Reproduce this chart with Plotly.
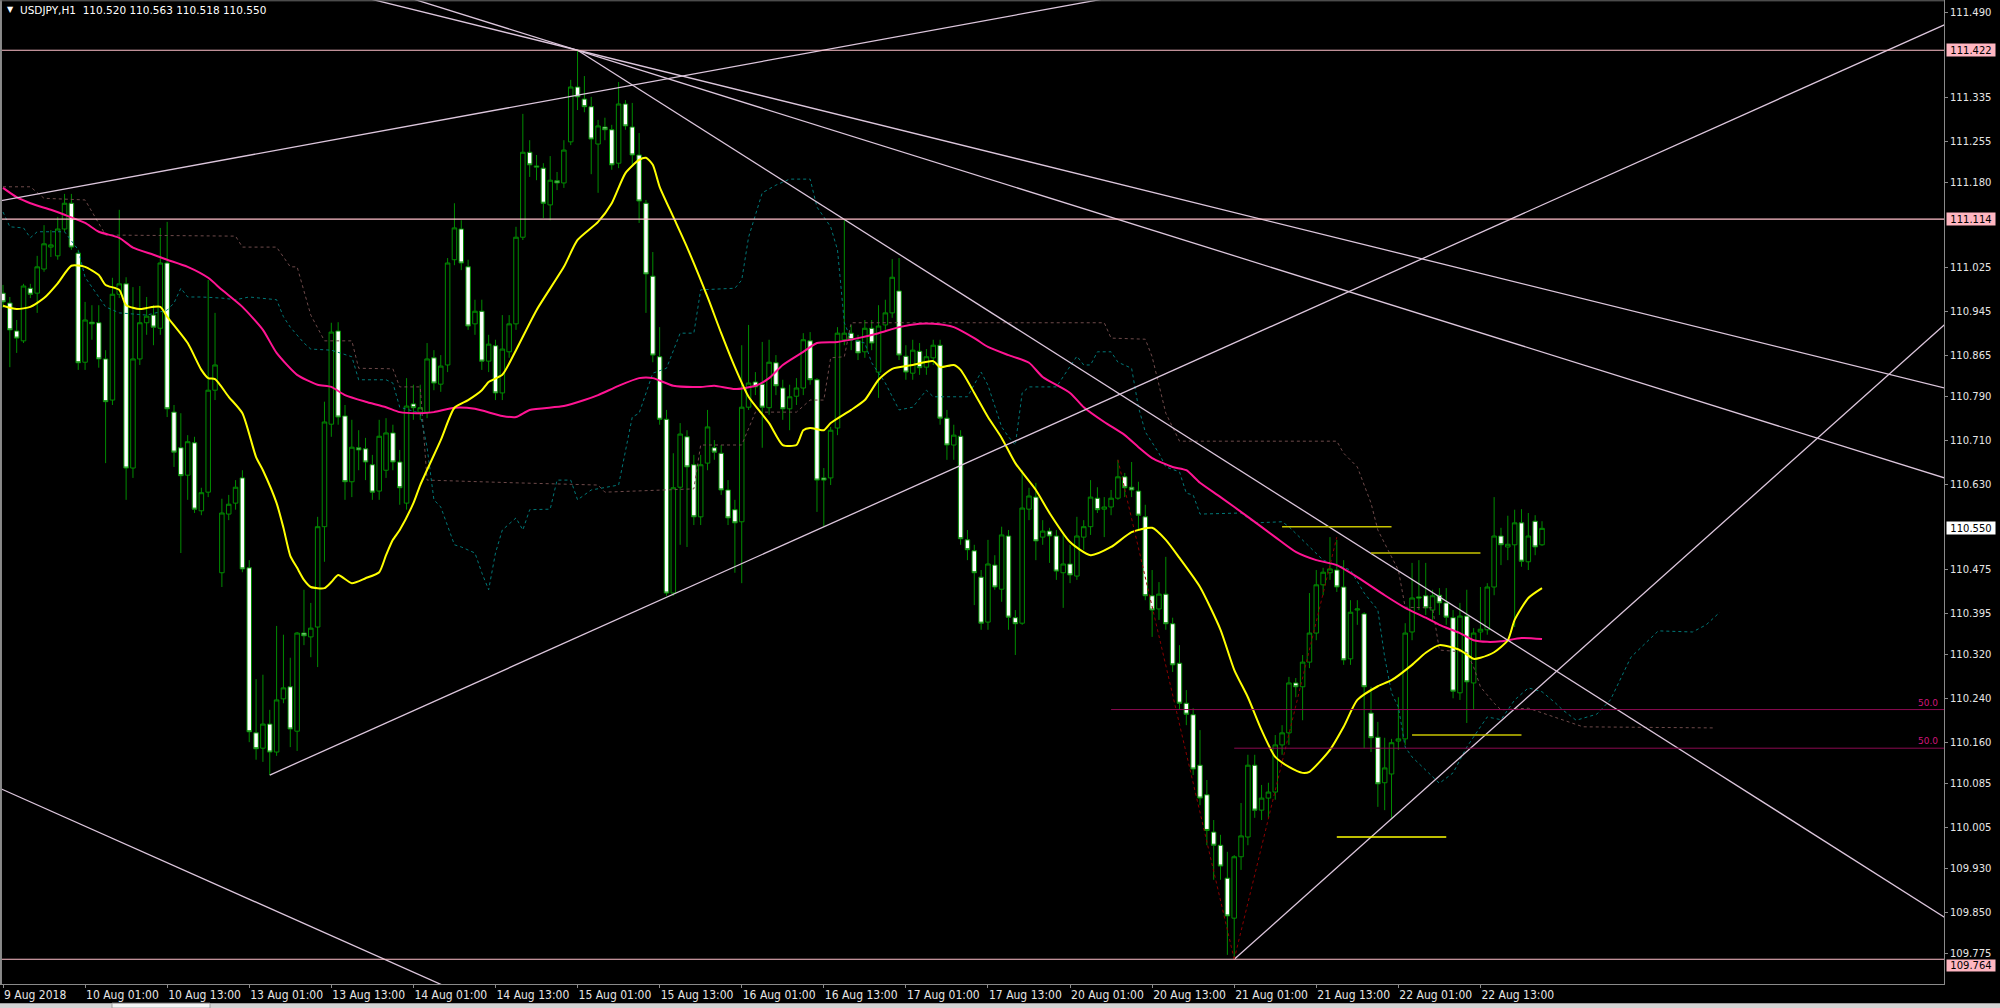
import plotly.graph_objects as go

# ---------------- candle data (bar index 0 = 9 Aug 13:00, H1) ----------------
opens = [110.979,110.961,110.910,110.892,110.988,110.979,111.023,111.063,111.047,111.096,
111.143,111.052,110.853,110.926,110.925,110.859,110.784,110.977,110.996,110.660,
110.859,110.925,110.939,110.915,111.034,110.762,110.697,110.647,110.706,110.582,
110.616,110.802,110.469,110.576,110.596,110.642,110.478,110.177,110.149,110.193,
110.142,110.239,110.261,110.180,110.359,110.352,110.370,110.553,110.740,110.910,
110.755,110.635,110.697,110.695,110.666,110.618,110.656,110.724,110.671,110.596,
110.777,110.762,110.762,110.861,110.813,110.848,111.040,111.096,111.027,110.923,
110.946,110.855,110.883,110.797,110.872,110.923,111.081,111.236,111.211,111.207,
111.140,111.184,111.180,111.255,111.355,111.333,111.319,111.251,111.282,111.277,
111.216,111.324,111.282,111.231,111.143,111.010,110.863,110.749,110.432,110.625,
110.717,110.666,110.571,110.669,110.697,110.687,110.620,110.584,110.562,110.771,
110.817,110.813,110.770,110.852,110.806,110.768,110.791,110.806,110.892,110.821,
110.642,110.642,110.733,110.894,110.906,110.892,110.872,110.915,110.835,110.921,
110.943,110.983,110.864,110.833,110.873,110.844,110.861,110.884,110.751,110.702,
110.718,110.529,110.509,110.461,110.379,110.483,110.439,110.536,110.387,110.377,
110.585,110.607,110.534,110.545,110.536,110.469,110.485,110.463,110.534,110.553,
110.605,110.585,110.589,110.605,110.644,110.625,110.618,110.571,110.427,110.403,
110.430,110.376,110.304,110.231,110.210,110.118,110.064,109.996,109.972,109.912,
109.839,109.951,109.987,110.118,110.036,110.058,110.069,110.155,110.177,110.268,
110.261,110.306,110.359,110.447,110.469,110.474,110.443,110.312,110.401,110.394,
110.213,110.169,110.086,110.102,110.162,110.166,110.361,110.425,110.427,110.401,
110.428,110.414,110.387,110.250,110.390,110.268,110.361,110.365,110.443,110.536,
110.516,110.520,110.560,110.489,110.563,110.520]

highs = [110.994,110.972,110.930,110.996,110.996,111.047,111.103,111.094,111.118,111.160,
111.160,111.058,110.963,110.957,110.957,110.875,111.007,111.131,111.008,110.990,
110.992,110.972,110.957,111.098,111.109,110.775,110.760,110.720,110.717,110.624,
111.003,110.943,110.604,110.611,110.638,110.656,110.492,110.275,110.283,110.219,
110.372,110.356,110.314,110.361,110.438,110.414,110.571,110.781,110.925,110.926,
110.775,110.748,110.729,110.715,110.684,110.748,110.751,110.739,110.693,110.824,
110.812,110.812,110.888,110.875,110.866,111.043,111.143,111.112,111.040,110.967,
110.967,110.903,110.894,110.939,110.939,111.100,111.306,111.258,111.231,111.216,
111.229,111.200,111.258,111.368,111.422,111.375,111.337,111.295,111.299,111.286,
111.364,111.331,111.326,111.271,111.149,111.054,110.917,110.766,110.687,110.742,
110.729,110.684,110.684,110.766,110.711,110.702,110.638,110.602,110.884,110.921,
110.835,110.890,110.894,110.866,110.821,110.812,110.824,110.906,110.908,110.824,
110.660,110.735,110.917,111.112,110.921,110.903,110.930,110.930,110.957,110.967,
111.041,111.043,110.884,110.894,110.888,110.877,110.894,110.894,110.766,110.739,
110.729,110.547,110.520,110.474,110.529,110.501,110.553,110.547,110.401,110.656,
110.624,110.633,110.565,110.551,110.547,110.542,110.520,110.571,110.565,110.638,
110.625,110.607,110.620,110.675,110.651,110.671,110.635,110.593,110.474,110.452,
110.498,110.387,110.337,110.255,110.222,110.182,110.091,110.018,109.991,109.960,
109.954,110.049,110.137,110.137,110.082,110.086,110.173,110.191,110.279,110.277,
110.319,110.432,110.474,110.478,110.534,110.529,110.492,110.419,110.419,110.397,
110.261,110.197,110.168,110.166,110.242,110.377,110.487,110.492,110.487,110.438,
110.441,110.441,110.401,110.414,110.438,110.368,110.443,110.450,110.607,110.551,
110.573,110.584,110.585,110.578,110.574,110.563]

lows = [110.952,110.844,110.870,110.888,110.970,110.943,111.018,111.045,111.040,111.091,
111.058,110.839,110.839,110.894,110.843,110.669,110.775,110.970,110.602,110.642,
110.848,110.903,110.884,110.903,110.753,110.662,110.505,110.602,110.578,110.574,
110.607,110.784,110.443,110.565,110.584,110.470,110.160,110.128,110.124,110.100,
110.135,110.231,110.151,110.144,110.337,110.315,110.297,110.489,110.717,110.739,
110.602,110.607,110.656,110.638,110.602,110.602,110.642,110.656,110.593,110.584,
110.748,110.748,110.751,110.802,110.799,110.835,111.030,111.021,110.912,110.903,
110.839,110.835,110.784,110.784,110.861,110.912,111.076,111.191,111.185,111.116,
111.112,111.167,111.171,111.249,111.313,111.309,111.196,111.162,111.258,111.204,
111.207,111.277,111.213,111.107,110.943,110.853,110.739,110.427,110.427,110.520,
110.516,110.556,110.556,110.656,110.675,110.611,110.556,110.469,110.450,110.766,
110.793,110.697,110.757,110.793,110.748,110.729,110.775,110.793,110.812,110.580,
110.553,110.629,110.720,110.884,110.875,110.857,110.861,110.875,110.788,110.912,
110.934,110.857,110.821,110.821,110.830,110.830,110.848,110.739,110.675,110.675,
110.520,110.492,110.410,110.365,110.365,110.438,110.416,110.365,110.319,110.374,
110.565,110.492,110.520,110.487,110.456,110.405,110.450,110.456,110.511,110.538,
110.578,110.534,110.574,110.602,110.607,110.607,110.547,110.419,110.352,110.383,
110.365,110.288,110.219,110.191,110.100,110.045,109.972,109.909,109.909,109.772,
109.764,109.927,109.972,110.022,110.018,110.022,110.055,110.137,110.155,110.242,
110.200,110.295,110.346,110.428,110.456,110.434,110.301,110.301,110.374,110.149,
110.142,110.042,110.036,110.022,110.146,110.155,110.346,110.401,110.392,110.383,
110.392,110.374,110.240,110.237,110.195,110.219,110.346,110.356,110.428,110.483,
110.492,110.370,110.480,110.474,110.501,110.518]

closes = [110.963,110.912,110.897,110.992,110.977,111.027,111.069,111.067,111.096,111.143,
111.063,110.852,110.930,110.923,110.859,110.781,110.977,110.996,110.660,110.859,
110.925,110.937,110.917,111.034,110.768,110.689,110.646,110.708,110.585,110.615,
110.802,110.848,110.578,110.594,110.625,110.476,110.179,110.148,110.193,110.142,
110.237,110.259,110.184,110.359,110.354,110.368,110.553,110.744,110.908,110.753,
110.635,110.698,110.693,110.671,110.616,110.718,110.724,110.671,110.624,110.773,
110.770,110.770,110.859,110.815,110.846,111.034,111.098,111.034,110.919,110.946,
110.855,110.886,110.797,110.877,110.923,111.081,111.236,111.213,111.209,111.143,
111.185,111.180,111.240,111.355,111.337,111.319,111.260,111.284,111.277,111.213,
111.324,111.284,111.231,111.147,111.014,110.866,110.749,110.432,110.624,110.722,
110.662,110.571,110.666,110.735,110.689,110.620,110.569,110.560,110.771,110.815,
110.808,110.771,110.853,110.810,110.768,110.790,110.806,110.894,110.821,110.638,
110.638,110.729,110.906,110.906,110.894,110.870,110.915,110.888,110.919,110.943,
111.008,110.866,110.835,110.875,110.843,110.863,110.884,110.751,110.702,110.720,
110.531,110.511,110.469,110.377,110.485,110.443,110.538,110.388,110.376,110.587,
110.609,110.527,110.545,110.536,110.472,110.485,110.465,110.536,110.553,110.607,
110.584,110.589,110.605,110.644,110.624,110.620,110.574,110.427,110.401,110.430,
110.376,110.301,110.231,110.211,110.111,110.058,109.999,109.972,109.934,109.843,
109.951,109.989,110.118,110.036,110.058,110.069,110.155,110.177,110.268,110.261,
110.306,110.359,110.447,110.470,110.476,110.443,110.310,110.397,110.403,110.261,
110.168,110.084,110.113,110.159,110.166,110.359,110.423,110.423,110.405,110.427,
110.414,110.388,110.253,110.390,110.270,110.359,110.366,110.443,110.536,110.520,
110.521,110.560,110.490,110.536,110.516,110.550]

# ---------------- moving averages ----------------
yellow_bars = [0,2,4,6,8,10,12,14,15,17,18,20,21,23,24,27,29,30,31,33,35,37,38,40,41,42,43,44,45,47,
48,49,51,53,55,56,57,58,60,61,64,66,68,70,71,73,75,78,82,84,87,89,91,93,94,95,96,98,100,103,
105,107,109,112,114,116,117,118,120,121,124,126,128,130,133,136,137,139,140,142,144,146,148,151,153,156,159,162,165,168,
170,172,175,178,180,182,184,186,188,190,191,194,196,198,201,203,206,208,210,213,215,216,218,220,221,223,225]
yellow_vals = [110.956,110.950,110.954,110.970,110.997,111.029,111.027,111.012,110.994,110.985,110.957,110.950,110.952,110.954,110.936,
110.888,110.839,110.824,110.822,110.790,110.760,110.680,110.656,110.596,110.551,110.500,110.478,110.456,110.443,110.441,
110.452,110.465,110.450,110.459,110.470,110.501,110.529,110.547,110.596,110.629,110.711,110.770,110.784,110.802,110.817,
110.830,110.875,110.948,111.027,111.076,111.109,111.143,111.198,111.222,111.226,111.213,111.173,111.118,111.063,110.972,
110.906,110.844,110.790,110.742,110.702,110.702,110.729,110.733,110.729,110.742,110.766,110.784,110.821,110.841,110.848,
110.855,110.844,110.848,110.839,110.797,110.753,110.715,110.669,110.620,110.578,110.525,110.501,110.516,110.543,110.551,
110.529,110.496,110.443,110.365,110.292,110.242,110.182,110.133,110.115,110.104,110.106,110.146,110.188,110.237,110.262,
110.273,110.301,110.323,110.337,110.328,110.312,110.314,110.324,110.346,110.383,110.423,110.441]

magenta_bars = [0,2,4,7,9,12,14,17,19,22,24,27,30,32,35,38,40,43,46,48,50,53,56,58,61,63,66,69,73,75,
77,82,85,87,90,93,95,98,102,104,107,110,112,114,117,119,122,125,128,131,134,136,139,142,144,147,150,152,156,158,
161,164,166,168,171,173,175,178,182,186,189,192,195,198,202,205,208,210,213,215,217,219,222,225]
magenta_vals = [111.171,111.154,111.143,111.131,111.122,111.107,111.091,111.080,111.062,111.049,
111.040,111.027,111.007,110.985,110.954,110.912,110.870,110.830,110.812,110.808,
110.793,110.781,110.771,110.762,110.760,110.762,110.770,110.768,110.755,110.753,
110.766,110.773,110.784,110.793,110.810,110.824,110.824,110.810,110.808,110.810,
110.804,110.810,110.824,110.848,110.872,110.888,110.890,110.897,110.906,110.917,
110.923,110.923,110.917,110.897,110.881,110.866,110.852,110.826,110.797,110.771,
110.744,110.720,110.698,110.678,110.662,110.656,110.633,110.607,110.571,110.534,
110.507,110.492,110.483,110.461,110.428,110.405,110.387,110.374,110.359,110.346,
110.343,110.344,110.350,110.348]

# ---------------- Ichimoku spans (dotted) ----------------
span_a_bars = [0,1,3,4,5,7,9,11,12,14,15,17,19,21,24,25,26,27,29,32,34,36,40,41,42,44,45,48,51,52,
56,57,58,61,62,63,64,66,67,69,70,71,72,73,75,76,77,80,81,83,84,86,90,91,92,93,95,97,99,101,
102,107,108,109,111,113,115,118,119,121,122,123,124,126,127,129,131,133,135,136,141,143,144,146,147,148,149,150,154,157,
158,159,160,162,163,165,166,167,169,170,172,173,174,175,181,183,187,188,191,193,195,197,199,201,202,203,204,205,206,208,
210,212,214,216,217,219,220,221,223,225,227,228,230,233,235,238,242,247,249,251]
span_a_vals = [111.127,111.100,111.098,111.080,111.091,111.091,111.091,111.058,111.008,110.972,
110.954,110.943,110.941,110.939,110.948,110.961,110.988,110.972,110.972,110.970,
110.967,110.972,110.967,110.936,110.917,110.888,110.877,110.875,110.863,110.821,
110.821,110.815,110.771,110.760,110.698,110.602,110.589,110.520,110.516,110.505,
110.469,110.438,110.505,110.547,110.569,110.547,110.584,110.585,110.638,110.638,
110.602,110.620,110.629,110.693,110.753,110.760,110.833,110.842,110.906,110.906,
110.985,110.988,111.003,111.081,111.162,111.176,111.187,111.187,111.136,111.100,
111.058,110.925,110.894,110.888,110.852,110.815,110.766,110.771,110.802,110.790,
110.790,110.835,110.811,110.735,110.717,110.702,110.797,110.808,110.808,110.864,
110.848,110.848,110.872,110.872,110.853,110.842,110.771,110.726,110.687,110.662,
110.653,110.614,110.611,110.576,110.578,110.560,110.562,110.553,110.516,110.492,
110.483,110.474,110.432,110.401,110.315,110.250,110.224,110.151,110.133,110.109,
110.085,110.104,110.151,110.188,110.206,110.201,110.219,110.237,110.259,110.252,
110.231,110.219,110.200,110.211,110.237,110.315,110.363,110.361,110.374,110.397]

span_b_bars = [0,4,6,12,15,34,35,40,42,43,45,47,51,52,57,58,61,62,75,87,
88,101,102,108,110,116,118,120,121,123,124,161,162,167,168,170,172,195,196,198,
200,201,203,204,205,209,210,214,215,216,218,219,223,231,250]
span_b_vals = [111.173,111.173,111.152,111.149,111.085,111.083,111.063,111.063,111.027,111.027,
110.939,110.892,110.892,110.842,110.841,110.808,110.808,110.638,110.633,110.629,
110.616,110.622,110.702,110.702,110.762,110.762,110.784,110.784,110.861,110.863,
110.925,110.925,110.897,110.895,110.863,110.760,110.709,110.709,110.687,110.662,
110.596,110.547,110.498,110.474,110.406,110.405,110.328,110.324,110.297,110.261,
110.231,110.219,110.222,110.188,110.186]

# ---------------- drawn objects ----------------
trend_x0 = [50, 56, 84, -5, 39, 180, -5]
trend_y0 = [111.527, 111.531, 111.422, 111.137, 110.100, 109.764, 110.101]
trend_x1 = [290, 290, 290, 165, 290, 290, 70]
trend_y1 = [110.787, 110.618, 109.792, 111.525, 111.503, 110.990, 109.685]

fibo_x0 = [163, 180]
fibo_y0 = [110.675, 109.764]
fibo_x1 = [180, 195]
fibo_y1 = [109.764, 110.534]
fibo_level_price = [110.2195, 110.149]
fibo_level_start = [162, 180]
fibo_level_text = ["50.0", "50.0"]

seg_x0 = [187, 200, 206, 195]
seg_x1 = [203, 216, 222, 211]
seg_y = [110.553, 110.505, 110.173, 109.987]
seg_colors = ["#C8C400", "#C8C400", "#C8C400", "#FFFF00"]

hline_prices = [111.422, 111.114, 109.764]
hline_label_anchor = ["middle", "middle", "top"]
last_price = 110.550

price_ticks = [111.490, 111.335, 111.255, 111.180, 111.025, 110.945, 110.865, 110.790,
               110.710, 110.630, 110.475, 110.395, 110.320, 110.240, 110.160, 110.085, 110.005,
               109.930, 109.850, 109.775]
time_tick_bars = [0, 12, 24, 36, 48, 60, 72, 84, 96, 108, 120, 132, 144, 156, 168, 180, 192, 204, 216]
time_tick_labels = ["9 Aug 2018", "10 Aug 01:00", "10 Aug 13:00", "13 Aug 01:00", "13 Aug 13:00",
                    "14 Aug 01:00", "14 Aug 13:00", "15 Aug 01:00", "15 Aug 13:00", "16 Aug 01:00",
                    "16 Aug 13:00", "17 Aug 01:00", "17 Aug 13:00", "20 Aug 01:00", "20 Aug 13:00",
                    "21 Aug 01:00", "21 Aug 13:00", "22 Aug 01:00", "22 Aug 13:00"]
header_text = "USDJPY,H1  110.520 110.563 110.518 110.550"

# ---------------- figure ----------------
bars = list(range(len(opens)))
fig = go.Figure()

fig.add_trace(go.Scatter(x=span_b_bars, y=span_b_vals, mode="lines", hoverinfo="skip",
                         line=dict(color="#6E4A4A", width=1, dash="dot")))
fig.add_trace(go.Scatter(x=span_a_bars, y=span_a_vals, mode="lines", hoverinfo="skip",
                         line=dict(color="#007878", width=1, dash="dot")))

fig.add_trace(go.Candlestick(
    x=bars, open=opens, high=highs, low=lows, close=closes, whiskerwidth=0, hoverinfo="skip",
    increasing=dict(line=dict(color="#008C00", width=1), fillcolor="#000000"),
    decreasing=dict(line=dict(color="#008C00", width=1), fillcolor="#FFFFFF")))

fig.add_trace(go.Scatter(x=magenta_bars, y=magenta_vals, mode="lines", hoverinfo="skip",
                         line=dict(color="#FF1493", width=2, shape="spline", smoothing=0.6)))
fig.add_trace(go.Scatter(x=yellow_bars, y=yellow_vals, mode="lines", hoverinfo="skip",
                         line=dict(color="#FFFF00", width=2, shape="spline", smoothing=0.6)))

for i in range(len(trend_x0)):
    fig.add_trace(go.Scatter(x=[trend_x0[i], trend_x1[i]], y=[trend_y0[i], trend_y1[i]], mode="lines",
                             hoverinfo="skip", line=dict(color="#DCC6DC", width=1.3)))

for i in range(len(fibo_x0)):
    fig.add_trace(go.Scatter(x=[fibo_x0[i], fibo_x1[i]], y=[fibo_y0[i], fibo_y1[i]], mode="lines",
                             hoverinfo="skip", line=dict(color="#8B0000", width=1, dash="dot")))
    fig.add_trace(go.Scatter(x=[fibo_level_start[i], 290], y=[fibo_level_price[i], fibo_level_price[i]],
                             mode="lines", hoverinfo="skip", line=dict(color="#8A0A50", width=1)))

for i in range(len(seg_y)):
    fig.add_trace(go.Scatter(x=[seg_x0[i], seg_x1[i]], y=[seg_y[i], seg_y[i]], mode="lines",
                             hoverinfo="skip", line=dict(color=seg_colors[i], width=1.5)))

shapes = []
for p in hline_prices:
    shapes.append(dict(type="line", xref="paper", yref="y", x0=0, x1=1, y0=p, y1=p,
                       line=dict(color="#FFC0CB", width=1.2), layer="above"))
# chart frame (left / top) and bottom tab strip
shapes.append(dict(type="line", xref="paper", yref="paper", x0=0.0005, x1=0.0005, y0=0, y1=1,
                   line=dict(color="#8A8A8A", width=2)))
shapes.append(dict(type="line", xref="paper", yref="paper", x0=0, x1=1, y0=0.9992, y1=0.9992,
                   line=dict(color="#6A6A6A", width=1)))
shapes.append(dict(type="rect", xref="paper", yref="paper", x0=0, x1=2000 / 1944, y0=-0.0195, y1=-0.0245,
                   fillcolor="#D4D4D4", line=dict(width=0)))
shapes.append(dict(type="rect", xref="paper", yref="paper", x0=112 / 1944, x1=210 / 1944, y0=-0.0195, y1=-0.0245,
                   fillcolor="#F4F4F4", line=dict(color="#A0A0A0", width=1)))

annotations = []
for p, anc in zip(hline_prices, hline_label_anchor):
    annotations.append(dict(xref="paper", yref="y", x=1946 / 1944, y=p, xanchor="left", yanchor=anc,
                            text=f"{p:.3f}", showarrow=False, bgcolor="#FFB6C1", borderpad=1,
                            width=46, height=10 if anc == "middle" else 9,
                            font=dict(family="DejaVu Sans", size=10, color="#000000")))
annotations.append(dict(xref="paper", yref="y", x=1946 / 1944, y=last_price, xanchor="left", yanchor="middle",
                        text=f"{last_price:.3f}", showarrow=False, bgcolor="#FFFFFF", borderpad=1,
                        width=46, height=10, font=dict(family="DejaVu Sans", size=10, color="#000000")))
for i in range(len(fibo_level_price)):
    annotations.append(dict(xref="paper", yref="y", x=1940 / 1944, y=fibo_level_price[i], xanchor="right",
                            yanchor="bottom", text=fibo_level_text[i], showarrow=False,
                            font=dict(family="DejaVu Sans", size=9, color="#D0157A")))
annotations.append(dict(xref="paper", yref="paper", x=5 / 1944, y=(984 - 10) / 984, xanchor="left",
                        yanchor="middle", text="▼", showarrow=False,
                        font=dict(family="DejaVu Sans", size=8, color="#FFFFFF")))
annotations.append(dict(xref="paper", yref="paper", x=18 / 1944, y=(984 - 10) / 984, xanchor="left",
                        yanchor="middle", text=header_text, showarrow=False,
                        font=dict(family="DejaVu Sans", size=10.5, color="#FFFFFF")))

fig.update_layout(
    width=2000, height=1008,
    margin=dict(l=0, r=56, t=0, b=24, pad=0),
    paper_bgcolor="#000000", plot_bgcolor="#000000",
    showlegend=False, boxgap=0.34, boxgroupgap=0,
    shapes=shapes, annotations=annotations,
    xaxis=dict(range=[-0.4386, 283.77], rangeslider=dict(visible=False), showgrid=False, zeroline=False,
               tickmode="array", tickvals=time_tick_bars, ticktext=time_tick_labels,
               ticks="outside", ticklen=3, tickcolor="#8A8A8A", showline=True, linecolor="#8A8A8A",
               linewidth=1, ticklabelposition="outside right",
               tickfont=dict(family="Liberation Sans Narrow, DejaVu Sans Condensed, Liberation Sans",
                             size=12, color="#E6E6E6")),
    yaxis=dict(range=[109.7189, 111.5137], side="right", showgrid=False, zeroline=False,
               tickmode="array", tickvals=price_ticks, ticktext=[f"{v:.3f}" for v in price_ticks],
               ticks="outside", ticklen=3, tickcolor="#8A8A8A", showline=True, linecolor="#8A8A8A",
               linewidth=1, tickfont=dict(family="DejaVu Sans", size=10, color="#E6E6E6")),
)

fig.write_html("out.html", config={"displayModeBar": False},
               post_script="document.body.style.margin='0';document.body.style.overflow='hidden';")
